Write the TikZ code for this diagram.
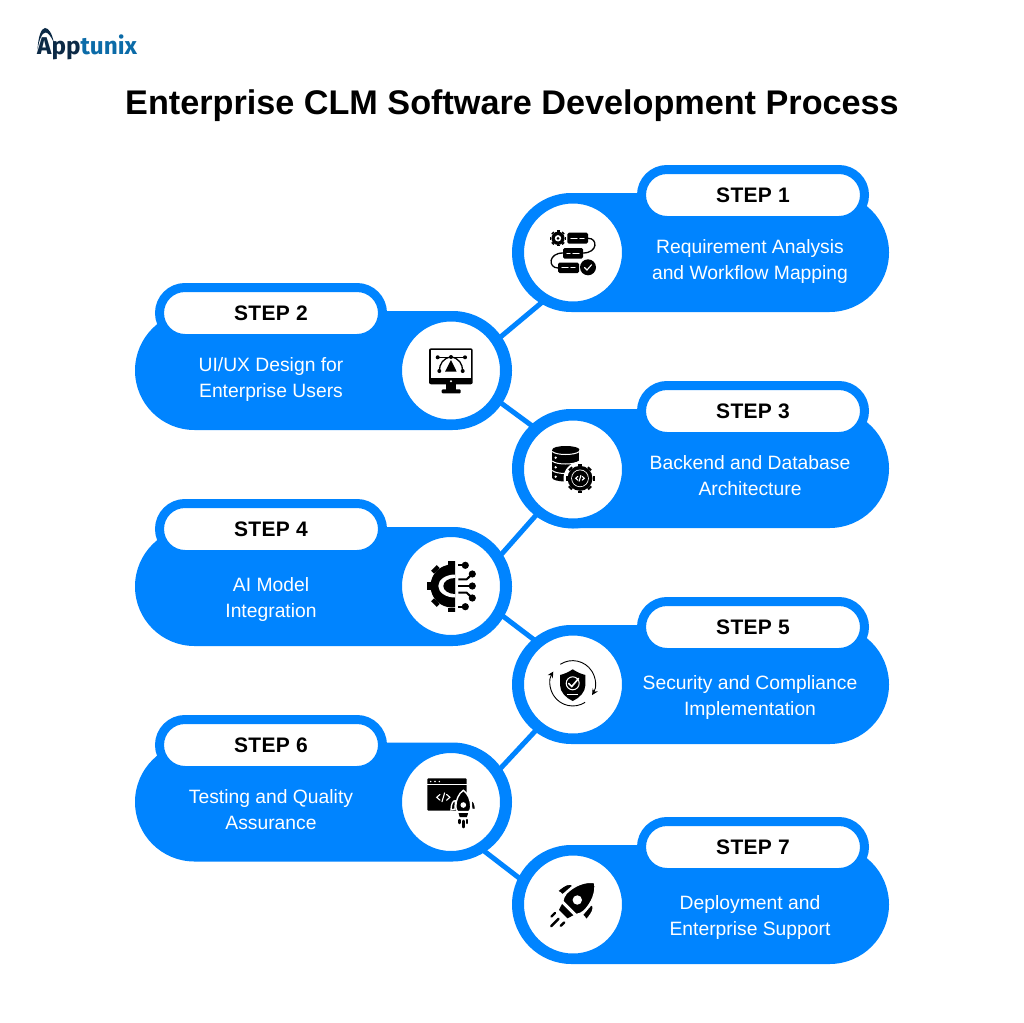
\documentclass[tikz,border=0pt]{standalone}
\usepackage{fontspec}
\setmainfont{Liberation Sans}
\newfontfamily\logofont{Fira Sans}
\usetikzlibrary{arrows.meta}
\definecolor{stepblue}{HTML}{0084FF}
\definecolor{logonavy}{HTML}{0C2A46}
\definecolor{logoblue}{HTML}{0B6BA8}
\tikzset{
rightbody/.style={fill=stepblue, rounded corners=59.5pt, minimum width=377pt, minimum height=119pt, inner sep=0pt},
leftbody/.style={rightbody},
ring/.style={circle, fill=white, draw=stepblue, line width=10pt, minimum size=108pt, inner sep=0pt},
stepbox/.style={fill=white, draw=stepblue, line width=9pt, rounded corners=25.5pt, minimum width=223pt, minimum height=51pt, inner sep=0pt, text height=15.4pt, text depth=0pt, font=\fontsize{21}{24}\selectfont\bfseries\addfontfeatures{LetterSpace=1.5}},
steptext/.style={text=white, align=center, inner sep=0pt, anchor=base, font=\fontsize{19.3}{26}\selectfont},
link/.style={draw=stepblue, line width=5pt, shorten <=-2pt, shorten >=-2pt},
whiteline/.style={draw=white, line width=1.1pt, line cap=round},
blackline/.style={draw=black, line width=1.3pt, line cap=round}
}
% x, y, outer radius, inner radius, tooth width, teeth
\newcommand{\gearicon}[6]{
\fill (#1,#2) circle (#4pt);
\foreach \a in {1,...,#6}
\draw[line width=#5pt] ({#1+#4*cos(\a*360/#6)},{#2+#4*sin(\a*360/#6)}) -- ({#1+#3*cos(\a*360/#6)},{#2+#3*sin(\a*360/#6)});
}
% x, y, size
\newcommand{\codemark}[3]{
\begin{scope}[shift={(#1,#2)}, scale=#3]
\draw[whiteline] (-3,-2.6) -- (-6,0) -- (-3,2.6);
\draw[whiteline] (3,-2.6) -- (6,0) -- (3,2.6);
\draw[whiteline] (1.2,-4) -- (-1.2,4);
\end{scope}
}
% x, y, turn, size
\newcommand{\rocketicon}[4]{
\begin{scope}[shift={(#1,#2)}, rotate=#3, scale=#4]
\fill[draw=white, line width=1.4pt] (-13,-7) .. controls (-17,-8) and (-20,-3) .. (-20.5,8) .. controls (-18,7) and (-16,6.5) .. (-14,7) -- cycle;
\fill[draw=white, line width=1.4pt] (13,-7) .. controls (17,-8) and (20,-3) .. (20.5,8) .. controls (18,7) and (16,6.5) .. (14,7) -- cycle;
\fill[draw=white, line width=1.4pt] (0,-24.5) .. controls (8,-19) and (12.5,-8) .. (12.5,3) .. controls (12.5,6) and (11,9) .. (9.5,11) -- (-9.5,11) .. controls (-11,9) and (-12.5,6) .. (-12.5,3) .. controls (-12.5,-8) and (-8,-19) .. (0,-24.5) -- cycle;
\fill[white] (0,0) circle (4.7pt);
\fill (-8,13.5) -- (8,13.5) -- (6,20) -- (-6,20) -- cycle;
\draw[line width=2.4pt, line cap=round] (0,26.5) -- (0,37);
\draw[line width=2.4pt, line cap=round] (-6.6,25) -- (-6.6,30);
\draw[line width=2.4pt, line cap=round] (6.6,25) -- (6.6,30);
\end{scope}
}
\begin{document}
\begin{tikzpicture}[x=1pt, y=-1pt]
\useasboundingbox (0,0) rectangle (1024,1022);
\fill[white] (0,0) rectangle (1024,1022);

% logo
\fill[logonavy] (37.5,50) .. controls (38,38) and (41,28) .. (45,28) .. controls (48.5,28) and (52,33) .. (54,43) .. controls (51,36) and (48,32.5) .. (45.5,32.5) .. controls (42,32.5) and (39,40) .. (37.5,50) -- cycle;
\path (37,55) node [anchor=base west, inner sep=0pt, font=\logofont\bfseries\fontsize{24.3}{26}\selectfont] (logo) {\textcolor{logonavy}{App}\textcolor{logoblue}{tunix}};
\path (512,114) node [anchor=base, font=\fontsize{34.2}{36}\selectfont\bfseries] (title) {Enterprise CLM Software Development Process};

\path
(700.5,252.5) node [rightbody] (body1) {}
(323.5,370.5) node [leftbody] (body2) {}
(700.5,468.5) node [rightbody] (body3) {}
(323.5,586.5) node [leftbody] (body4) {}
(700.5,684.5) node [rightbody] (body5) {}
(323.5,802) node [leftbody] (body6) {}
(700.5,904.5) node [rightbody] (body7) {};

\path
(753,195) node [stepbox] (step1) {STEP 1}
(271,313) node [stepbox] (step2) {STEP 2}
(753,411) node [stepbox] (step3) {STEP 3}
(271,529) node [stepbox] (step4) {STEP 4}
(753,627) node [stepbox] (step5) {STEP 5}
(271,745) node [stepbox] (step6) {STEP 6}
(753,847) node [stepbox] (step7) {STEP 7};

\path
(750,279) node [steptext] (text1) {Requirement Analysis\\and Workflow Mapping}
(271,397) node [steptext] (text2) {UI/UX Design for\\Enterprise Users}
(750,495) node [steptext] (text3) {Backend and Database\\Architecture}
(271,617) node [steptext] (text4) {AI Model\\Integration}
(750,715) node [steptext] (text5) {Security and Compliance\\Implementation}
(271,829) node [steptext] (text6) {Testing and Quality\\Assurance}
(750,935) node [steptext] (text7) {Deployment and\\Enterprise Support};

\path
(573,252.5) node [ring] (ring1) {}
(451,370.5) node [ring] (ring2) {}
(573,469.5) node [ring] (ring3) {}
(451,586) node [ring] (ring4) {}
(573,684.5) node [ring] (ring5) {}
(451,802) node [ring] (ring6) {}
(573,904.5) node [ring] (ring7) {};

\draw[link] (ring1.238) -- (ring2.34);
\draw[link] (ring2.-33) -- (ring3.133);
\draw[link] (ring3.231) -- (ring4.32);
\draw[link] (ring4.-30) -- (ring5.131);
\draw[link] (ring5.231) -- (ring6.34);
\draw[link] (ring6.-56) -- (ring7.154);

% workflow icon
\gearicon{558}{238.3}{8}{6.6}{3}{8}
\fill[white] (558,238.3) circle (3.2pt);
\fill (558,238.3) circle (1.5pt);
\fill[rounded corners=1.5pt] (567.3,232.7) rectangle (588,243.7);
\fill[rounded corners=1.5pt] (563,248) rectangle (583,258.7);
\fill[rounded corners=1.5pt] (558,262.7) rectangle (579,273);
\draw[blackline] (588,238.3) .. controls (598,238) and (598,253) .. (583,253);
\draw[blackline] (563,253) .. controls (548,253) and (548,268) .. (558,268);
\draw[whiteline] (571,238.2) -- (577,238.2) (580,238.2) -- (584,238.2);
\draw[whiteline] (567,253.3) -- (570,253.3) (573,253.3) -- (579,253.3);
\draw[whiteline] (562,267.8) -- (568,267.8) (571,267.8) -- (575,267.8);
\fill (588,267.3) circle (8pt);
\draw[whiteline] (584.5,267.5) -- (587,270) -- (591.5,264.8);

% design icon
\fill[rounded corners=2pt] (429,348.3) rectangle (472.7,384.3);
\fill[white] (430.7,350) rectangle (471,378.3);
\fill[white] (451,381.3) circle (1.1pt);
\fill (445.7,384) rectangle (455.7,389.5);
\fill[rounded corners=1pt] (441.7,389.3) rectangle (460.7,393.3);
\fill (451,360) -- (445,371.7) -- (456.7,371.7) -- cycle;
\draw[blackline] (437.7,357.3) -- (465,357.3);
\draw[blackline] (451,357) .. controls (443,358) and (439.5,364) .. (439.3,371);
\draw[blackline] (451,357) .. controls (459,358) and (462.5,364) .. (462.7,371);
\fill (437.7,357.3) circle (2pt) (465,357.3) circle (2pt) (451,357) circle (2pt) (439.3,371) circle (2pt) (462.7,371) circle (2pt);

% database icon
\fill (552.3,449.5) rectangle (579.3,478);
\fill (565.8,449.5) ellipse (13.5pt and 3.5pt);
\fill (565.8,478) ellipse (13.5pt and 3.5pt);
\draw[white, line width=1pt] (552.3,451.5) .. controls (556,455.5) and (575,455.5) .. (579.3,451.5);
\draw[white, line width=1pt] (552.3,461) .. controls (556,465) and (575,465) .. (579.3,461);
\draw[white, line width=1pt] (552.3,470.5) .. controls (556,474.5) and (575,474.5) .. (579.3,470.5);
\fill[white] (555.7,457.7) circle (1.3pt) (555.7,467.3) circle (1.3pt) (555.7,476.7) circle (1.3pt);
\fill[white] (580,478.3) circle (16.5pt);
\gearicon{580}{478.3}{14.5}{12.5}{4.5}{8}
\fill[white] (580,478.3) circle (8.8pt);
\fill (580,478.3) circle (8pt);
\codemark{580}{478.3}{0.72}

% ai icon
\begin{scope}
\clip (420,555) rectangle (455,616);
\gearicon{452}{586}{25.5}{21.5}{8}{8}
\end{scope}
\fill[white] (455,574.5) arc (90:270:16.7pt and 11.5pt) -- cycle;
\fill (455,578) arc (90:270:11.7pt and 8pt) -- cycle;
\draw[line width=2pt] (458.3,565.3) -- (465.3,565.3);
\draw[line width=2pt] (458.3,579.3) -- (466.7,579.3) -- (472.3,574);
\draw[line width=2pt] (458.3,586) -- (472.3,586);
\draw[line width=2pt] (458.3,592.7) -- (466.7,592.7) -- (472.3,598);
\draw[line width=2pt] (458.3,606.7) -- (465.3,606.7);
\fill (465.3,565.3) circle (3.6pt) (472.3,574) circle (3.6pt) (472.3,586) circle (3.6pt) (472.3,598) circle (3.6pt) (465.3,606.7) circle (3.6pt);

% security icon
\fill (572.7,669.3) .. controls (568,672.5) and (564,674) .. (560,675) -- (560,685) .. controls (560,692) and (566,698) .. (572.7,701) .. controls (579.4,698) and (585.4,692) .. (585.4,685) -- (585.4,675) .. controls (581.4,674) and (577.4,672.5) .. (572.7,669.3) -- cycle;
\draw[white, line width=1pt] (572.7,683.3) circle (6.5pt);
\draw[white, line width=1.6pt, line cap=round] (568.7,683.5) -- (571.8,686.5) -- (578.5,678.5);
\draw[white, line width=1pt] (567,694) -- (578,694);
\draw[black, line width=0.9pt, -{Stealth[length=6pt, width=6pt]}] (560.3,664.3) arc (123:-31:22.7pt);
\draw[black, line width=0.9pt, -{Stealth[length=6pt, width=6pt]}] (585.1,702.3) arc (-57:-211:22.7pt);

% testing icon
\fill[rounded corners=1pt] (427.3,778.3) rectangle (466.7,810.7);
\draw[white, line width=0.8pt] (427.3,784) -- (466.7,784);
\fill[white] (430.7,781.5) circle (0.8pt) (435,781.5) circle (0.8pt) (439.3,781.5) circle (0.8pt);
\codemark{443.3}{797.3}{1.1}
\rocketicon{463.3}{805}{0}{0.6}

% deployment icon
\rocketicon{577.3}{900}{-45}{1}
\end{tikzpicture}
\end{document}
